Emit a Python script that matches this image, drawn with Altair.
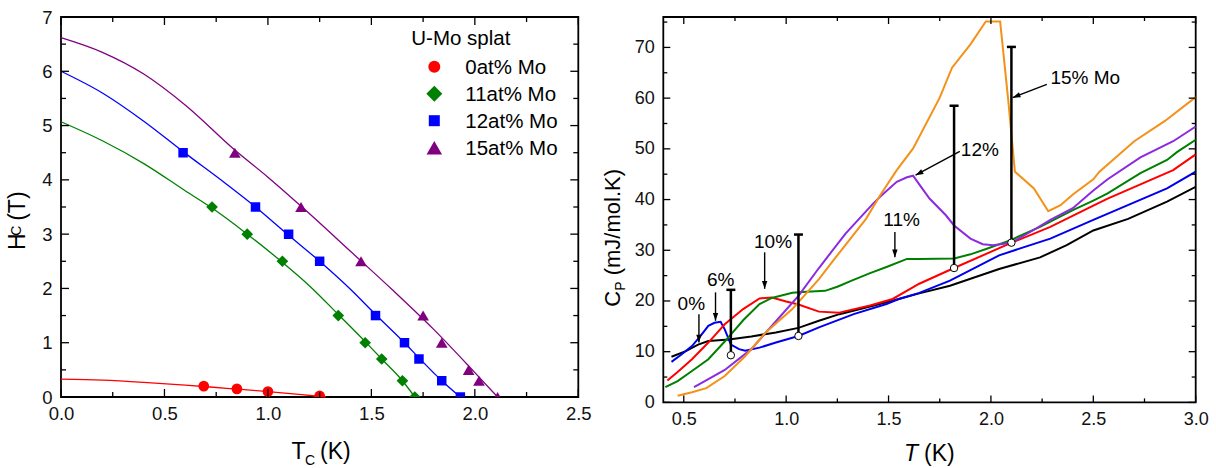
import math
import altair as alt
import pandas as pd

FONT = "Liberation Sans"

# ---------------- Left panel: Hc vs Tc ----------------
left_series = ["0at% Mo", "11at% Mo", "12at% Mo", "15at% Mo"]
left_colors = ["#ff0000", "#008000", "#0000ff", "#800080"]
left_shapes = ["circle", "diamond", "square", "triangle-up"]

hc0_T = [0.69, 0.85, 1.00, 1.25]
hc0_H = [0.20, 0.15, 0.10, 0.02]
hc11_T = [0.73, 0.90, 1.07, 1.34, 1.47, 1.55, 1.65, 1.71]
hc11_H = [3.5, 3.0, 2.5, 1.5, 1.0, 0.7, 0.3, 0.0]
hc12_T = [0.59, 0.94, 1.10, 1.25, 1.52, 1.66, 1.73, 1.84, 1.93]
hc12_H = [4.5, 3.5, 3.0, 2.5, 1.5, 1.0, 0.7, 0.3, 0.0]
hc15_T = [0.84, 1.16, 1.45, 1.75, 1.84, 1.97, 2.02, 2.11]
hc15_H = [4.5, 3.5, 2.5, 1.5, 1.0, 0.5, 0.3, 0.0]

fit0_T = [0.0, 0.2, 0.4, 0.6, 0.8, 1.0, 1.15, 1.28]
fit0_H = [0.33, 0.31, 0.27, 0.22, 0.16, 0.10, 0.05, 0.0]
fit11_T = [0.0, 0.2, 0.4, 0.6, 0.73, 0.9, 1.07, 1.2, 1.34, 1.47, 1.55, 1.65, 1.71]
fit11_H = [5.07, 4.72, 4.30, 3.80, 3.48, 3.0, 2.48, 2.05, 1.52, 1.02, 0.7, 0.3, 0.0]
fit12_T = [0.0, 0.2, 0.4, 0.59, 0.8, 0.94, 1.1, 1.25, 1.4, 1.52, 1.66, 1.73, 1.84, 1.93]
fit12_H = [6.0, 5.6, 5.08, 4.52, 3.92, 3.5, 2.98, 2.5, 1.98, 1.52, 1.0, 0.72, 0.3, 0.0]
fit15_T = [0.0, 0.2, 0.4, 0.6, 0.84, 1.0, 1.2, 1.4, 1.6, 1.8, 2.0, 2.11]
fit15_H = [6.62, 6.35, 5.95, 5.38, 4.55, 4.05, 3.38, 2.68, 1.98, 1.25, 0.45, 0.0]

left_x_major = [0, 0.5, 1.0, 1.5, 2.0, 2.5]
left_x_minor = [0.25, 0.75, 1.25, 1.75, 2.25]
left_y_major = [0, 1, 2, 3, 4, 5, 6, 7]
left_y_minor = [0.5, 1.5, 2.5, 3.5, 4.5, 5.5, 6.5]

# ---------------- Right panel: Cp vs T ----------------
right_labels = ["0%", "6%", "10%", "11%", "12%", "15% Mo"]
right_colors = ["#000000", "#0000ee", "#ff0000", "#008000", "#8a2be2", "#f39119"]

cp0_T = [0.44, 0.51, 0.57, 0.62, 0.72, 0.83, 0.95, 1.06, 1.16, 1.26, 1.41, 1.55, 1.65, 1.80, 2.04, 2.24, 2.37, 2.50, 2.67, 2.86, 3.00]
cp0_C = [9.0, 10.1, 11.4, 12.1, 12.4, 13.0, 13.8, 14.7, 16.1, 17.4, 18.9, 20.4, 21.5, 23.0, 26.3, 28.6, 31.0, 33.9, 36.2, 39.6, 42.5]
cp6_T = [0.44, 0.49, 0.54, 0.58, 0.62, 0.65, 0.68, 0.70, 0.73, 0.77, 0.80, 0.87, 0.95, 1.06, 1.16, 1.33, 1.49, 1.55, 1.65, 1.80, 2.04, 2.29, 2.50, 2.86, 3.00]
cp6_C = [8.0, 9.5, 11.1, 13.0, 15.1, 15.7, 15.9, 14.4, 11.4, 10.5, 10.2, 10.8, 11.8, 13.1, 14.8, 17.4, 19.4, 20.4, 21.6, 24.0, 29.0, 32.3, 36.0, 42.2, 45.5]
cp10_T = [0.42, 0.47, 0.54, 0.62, 0.70, 0.79, 0.87, 0.93, 1.00, 1.06, 1.16, 1.26, 1.29, 1.41, 1.52, 1.65, 1.82, 2.09, 2.29, 2.50, 2.57, 2.89, 3.00]
cp10_C = [4.3, 6.0, 8.5, 11.8, 15.4, 18.4, 20.5, 20.7, 19.9, 19.3, 17.9, 17.7, 18.0, 19.1, 20.4, 23.4, 26.5, 31.3, 34.6, 38.8, 40.2, 45.8, 48.9]
cp11_T = [0.41, 0.47, 0.54, 0.62, 0.70, 0.79, 0.87, 0.93, 1.03, 1.10, 1.19, 1.25, 1.32, 1.41, 1.49, 1.59, 1.65, 1.82, 1.90, 1.98, 2.09, 2.24, 2.40, 2.50, 2.57, 2.73, 2.86, 2.91, 3.00]
cp11_C = [3.0, 4.2, 6.2, 8.5, 12.0, 16.2, 19.4, 20.6, 21.6, 21.8, 22.0, 22.8, 24.0, 25.5, 26.7, 28.3, 28.3, 28.4, 29.2, 30.3, 31.9, 34.6, 37.9, 39.8, 41.2, 45.2, 47.8, 49.4, 51.8]
cp12_T = [0.55, 0.62, 0.70, 0.83, 0.95, 1.06, 1.16, 1.29, 1.42, 1.46, 1.54, 1.59, 1.62, 1.65, 1.70, 1.78, 1.82, 1.90, 1.96, 2.01, 2.10, 2.20, 2.29, 2.40, 2.50, 2.57, 2.73, 2.89, 3.00]
cp12_C = [3.0, 4.6, 6.4, 10.5, 16.0, 21.0, 26.5, 33.3, 39.0, 40.6, 43.5, 44.4, 44.7, 43.0, 40.2, 36.9, 34.9, 32.3, 31.2, 31.0, 31.5, 33.8, 36.0, 38.3, 41.8, 44.0, 48.3, 51.5, 54.4]
cp15_T = [0.47, 0.54, 0.61, 0.70, 0.80, 0.90, 1.03, 1.16, 1.24, 1.39, 1.46, 1.54, 1.62, 1.75, 1.81, 1.90, 1.975, 2.045, 2.085, 2.117, 2.21, 2.28, 2.34, 2.40, 2.50, 2.53, 2.70, 2.85, 3.00]
cp15_C = [1.3, 2.0, 2.8, 5.2, 9.1, 13.8, 18.4, 24.3, 28.5, 36.2, 40.9, 45.8, 50.1, 60.1, 66.0, 70.6, 75.1, 75.1, 59.4, 45.5, 42.2, 37.7, 38.9, 41.0, 44.0, 45.5, 51.5, 55.5, 60.2]

# error bars (T, lower, upper)
eb_T = [0.73, 1.06, 1.82, 2.10]
eb_low = [9.3, 13.1, 26.5, 31.5]
eb_high = [22.2, 33.1, 58.5, 70.1]

# annotation labels (position in data units) and arrows
ann_text = ["0%", "6%", "10%", "11%", "12%", "15% Mo"]
ann_T = [0.537, 0.68, 0.936, 1.564, 1.946, 2.461]
ann_C = [19.4, 24.1, 31.7, 35.9, 49.8, 63.9]
arr_T1 = [0.574, 0.655, 0.895, 1.531, 1.848, 2.273]
arr_C1 = [17.4, 21.7, 29.6, 33.6, 49.5, 62.7]
arr_T2 = [0.574, 0.655, 0.895, 1.531, 1.632, 2.106]
arr_C2 = [11.8, 16.1, 22.4, 28.6, 44.8, 60.1]

right_x_major = [0.5, 1.0, 1.5, 2.0, 2.5, 3.0]
right_x_minor = [0.75, 1.25, 1.75, 2.25, 2.75]
right_y_major = [0, 10, 20, 30, 40, 50, 60, 70]
right_y_minor = [5, 15, 25, 35, 45, 55, 65, 75]

# ---------------- layout ----------------
LW, LH = 517.3, 380.0
RW, RH = 532.4, 385.4
LX0, TOP = 62.7, 17.0
GAP = 664.3 - (LX0 + LW)
SHIFT_X, SHIFT_Y = 3.0, 1.0   # compensates page offset observed in the render

lxs = alt.Scale(domain=[0, 2.5], nice=False, zero=False)
lys = alt.Scale(domain=[0, 7], nice=False, zero=False)
rxs = alt.Scale(domain=[0.4, 3.0], nice=False, zero=False)
rys = alt.Scale(domain=[0, 76], nice=False, zero=False)
lxa = alt.Axis(values=left_x_major, format=".1f", title=None, labelPadding=7, labelFontSize=18.5)
lya = alt.Axis(values=left_y_major, format="d", title=None, labelPadding=9, labelFontSize=18.5)
rxa = alt.Axis(values=right_x_major, format=".1f", title=None, labelPadding=8.5, labelFontSize=18)
rya = alt.Axis(values=right_y_major, format="d", title=None, labelPadding=9, labelFontSize=18)


def X(f, s, a):
    return alt.X(f, type="quantitative", scale=s, axis=a)


def Y(f, s, a):
    return alt.Y(f, type="quantitative", scale=s, axis=a)


def txt(s, x, y, size, angle=None, style="normal", align="left", baseline="alphabetic"):
    kw = dict(font=FONT, fontSize=size, align=align, baseline=baseline,
              color="black", fontStyle=style)
    if angle is not None:
        kw["angle"] = angle
    return alt.Chart(pd.DataFrame({"s": [s]})).mark_text(**kw).encode(
        text="s:N", x=alt.value(x), y=alt.value(y))


def ticks(xmaj, xmin, ymaj, ymin, W, H, xs, ys, xa, ya, lmaj, lmin):
    out = []
    for vals, ln in ((xmaj, lmaj), (xmin, lmin)):
        d = pd.DataFrame({"v": vals})
        for y0, y1 in ((H, H - ln), (0, ln)):
            out.append(alt.Chart(d).mark_rule(color="black", strokeWidth=1.3).encode(
                x=X("v", xs, xa), y=alt.value(y0), y2=alt.value(y1)))
    for vals, ln in ((ymaj, lmaj), (ymin, lmin)):
        d = pd.DataFrame({"v": vals})
        for x0, x1 in ((0, ln), (W, W - ln)):
            out.append(alt.Chart(d).mark_rule(color="black", strokeWidth=1.3).encode(
                y=Y("v", ys, ya), x=alt.value(x0), x2=alt.value(x1)))
    return out


# ---------------- left panel layers ----------------
fits = [(fit0_T, fit0_H), (fit11_T, fit11_H), (fit12_T, fit12_H), (fit15_T, fit15_H)]
pts = [(hc0_T, hc0_H), (hc11_T, hc11_H), (hc12_T, hc12_H), (hc15_T, hc15_H)]
pt_sizes = [114, 136, 90, 136]
leg_sizes = [144, 256, 121, 240]

left_layers = []
for (ft, fh), col in zip(fits, left_colors):
    d = pd.DataFrame({"T": ft, "H": fh})
    left_layers.append(alt.Chart(d).mark_line(color=col, strokeWidth=1.3, interpolate="monotone").encode(
        x=X("T", lxs, lxa), y=Y("H", lys, lya), order="T:Q"))
for (pt, ph), col, shp, sz in zip(pts, left_colors, left_shapes, pt_sizes):
    d = pd.DataFrame({"T": pt, "H": ph})
    left_layers.append(alt.Chart(d).mark_point(shape=shp, filled=True, color=col, size=sz,
                                               opacity=1, clip=True).encode(
        x=X("T", lxs, lxa), y=Y("H", lys, lya)))
left_layers += ticks(left_x_major, left_x_minor, left_y_major, left_y_minor, LW, LH,
                     lxs, lys, lxa, lya, 8, 5)
# legend
left_layers.append(txt("U-Mo splat", 350.3, 28.0, 20.5))
for i, (lab, col, shp, sz) in enumerate(zip(left_series, left_colors, left_shapes, leg_sizes)):
    left_layers.append(alt.Chart(pd.DataFrame({"s": [lab]})).mark_point(
        shape=shp, filled=True, color=col, size=sz, opacity=1).encode(
        x=alt.value(373.3), y=alt.value(49.7 + 27 * i)))
    left_layers.append(txt(lab, 404.3, 56.6 + 27 * i, 20.5))
# axis titles
left_layers.append(txt("T", 230.6, 442.3, 23))
left_layers.append(txt("C", 244.0, 448.3, 14))
left_layers.append(txt("(K)", 259, 442.3, 23))
left_layers.append(txt("H", -35.7, 233.0, 23, angle=270))
left_layers.append(txt("C", -40.5, 218.8, 14, angle=270))
left_layers.append(txt("(T)", -35.7, 203.8, 23, angle=270))
# invisible rect anchoring the top-left corner of the picture
ax0, ay0 = -(LX0 - SHIFT_X), -(TOP - SHIFT_Y)
left_layers.append(alt.Chart(pd.DataFrame({"a": [0]})).mark_rect(opacity=0).encode(
    x=alt.value(ax0), x2=alt.value(ax0 + 1), y=alt.value(ay0), y2=alt.value(ay0 + 1)))

left = alt.layer(*left_layers).properties(width=LW, height=LH)

# ---------------- right panel layers ----------------
right_layers = []
curves = [(cp0_T, cp0_C), (cp6_T, cp6_C), (cp10_T, cp10_C), (cp11_T, cp11_C),
          (cp12_T, cp12_C), (cp15_T, cp15_C)]
for (ct, cc), col in zip(curves, right_colors):
    d = pd.DataFrame({"T": ct, "C": cc})
    right_layers.append(alt.Chart(d).mark_line(color=col, strokeWidth=2, clip=True).encode(
        x=X("T", rxs, rxa), y=Y("C", rys, rya), order="T:Q"))

eb = pd.DataFrame({"T": eb_T, "lo": eb_low, "hi": eb_high})
right_layers.append(alt.Chart(eb).mark_rule(color="black", strokeWidth=2.5).encode(
    x=X("T", rxs, rxa), y=Y("lo", rys, rya), y2="hi:Q"))
right_layers.append(alt.Chart(eb).mark_tick(color="black", orient="horizontal", size=9,
                                            thickness=2.5, opacity=1).encode(
    x=X("T", rxs, rxa), y=Y("hi", rys, rya)))
right_layers.append(alt.Chart(eb).mark_point(shape="circle", filled=True, fill="white",
                                             stroke="black", strokeWidth=1, size=55,
                                             opacity=1).encode(
    x=X("T", rxs, rxa), y=Y("lo", rys, rya)))


def px(t):
    return (t - 0.4) / 2.6 * RW


def py(c):
    return (76 - c) / 76 * RH


angles = []
for t1, c1, t2, c2 in zip(arr_T1, arr_C1, arr_T2, arr_C2):
    dx, dy = px(t2) - px(t1), py(c2) - py(c1)
    angles.append(math.degrees(math.atan2(-dx, dy)) % 360)
arr = pd.DataFrame({"T1": arr_T1, "C1": arr_C1, "T2": arr_T2, "C2": arr_C2, "a": angles})
right_layers.append(alt.Chart(arr).mark_rule(color="black", strokeWidth=1.4).encode(
    x=X("T1", rxs, rxa), y=Y("C1", rys, rya), x2="T2:Q", y2="C2:Q"))
right_layers.append(alt.Chart(arr).mark_point(shape="M0,0L-0.9,-2.6L0.9,-2.6Z", filled=True,
                                              color="black", size=36, opacity=1).encode(
    x=X("T2", rxs, rxa), y=Y("C2", rys, rya), angle=alt.Angle("a:Q", scale=None)))
ann = pd.DataFrame({"T": ann_T, "C": ann_C, "s": ann_text})
right_layers.append(alt.Chart(ann).mark_text(font=FONT, fontSize=19, color="black",
                                             align="center", baseline="middle").encode(
    x=X("T", rxs, rxa), y=Y("C", rys, rya), text="s:N"))
right_layers += ticks(right_x_major, right_x_minor, right_y_major, right_y_minor, RW, RH,
                      rxs, rys, rxa, rya, 7, 4)
# axis titles
right_layers.append(txt("T", 240.7, 443.7, 23, style="italic"))
right_layers.append(txt("(K)", 260.7, 443.7, 23))
right_layers.append(txt("C", -43.3, 289.7, 22, angle=270))
right_layers.append(txt("P", -38.5, 273.8, 14, angle=270))
right_layers.append(txt("(mJ/mol.K)", -43.3, 258.3, 22, angle=270))

right = alt.layer(*right_layers).properties(width=RW, height=RH)

chart = alt.HConcatChart(hconcat=[left, right], spacing=GAP, bounds="flush", padding=0)
chart = chart.configure_view(stroke="black", strokeWidth=1.8).configure_axis(
    labelFont=FONT, labelFontSize=18, labelColor="#111111", grid=False, domain=False,
    ticks=False, tickSize=0, labelFlush=False)

chart.save("out.html", embed_options={"renderer": "svg", "actions": False})
